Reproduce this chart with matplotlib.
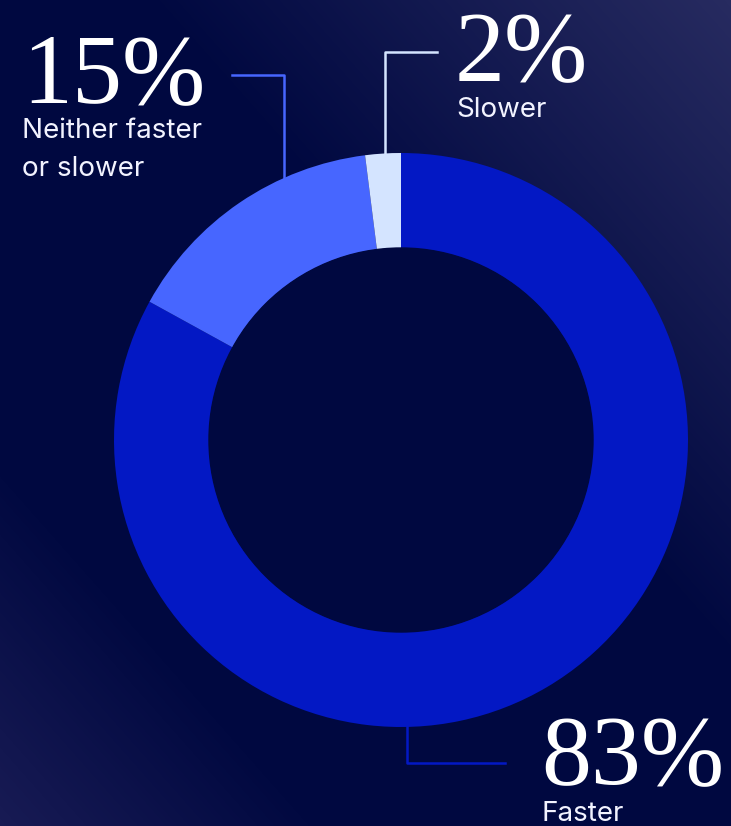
import numpy as np
import matplotlib.pyplot as plt
from matplotlib.colors import LinearSegmentedColormap

# data
labels = ["Faster", "Neither faster\nor slower", "Slower"]
values = [83, 15, 2]
pct_text = ["83%", "15%", "2%"]
colors = ["#0318C4", "#4766FF", "#D4E4FF"]

W, H = 731, 826
fig = plt.figure(figsize=(W / 100, H / 100), dpi=100)
ax = fig.add_axes([0, 0, 1, 1])

# background gradient: lighter at top-right and bottom-left, dark in the middle
bg = LinearSegmentedColormap.from_list(
    "bg", [(0.0, "#272B60"), (0.4, "#000840"), (0.78, "#000840"), (1.0, "#181B54")])
yy, xx = np.mgrid[0:H, 0:W]
t = ((W - xx) / W + yy / H) / 2  # 0 at top-right, 1 at bottom-left
ax.imshow(t, cmap=bg, extent=[0, W, 0, H], origin="upper", aspect="auto", zorder=0)

# donut (pixel coords, y measured from bottom)
cx, cy = 401, H - 440
r_out, r_in = 287, 192
ax.pie(values, colors=colors, startangle=90, counterclock=False,
       radius=r_out, center=(cx, cy),
       wedgeprops=dict(width=r_out - r_in, linewidth=0))
ax.add_patch(plt.Circle((cx, cy), r_in, color="#000840", zorder=3))

ax.set_xlim(0, W)
ax.set_ylim(0, H)
ax.set_aspect("auto")
ax.axis("off")

# leader lines
lw = 1.8
ax.plot([232, 284, 284], [H - 75, H - 75, H - 178], color=colors[1], lw=lw, zorder=2)
ax.plot([437, 385, 385], [H - 52, H - 52, H - 155], color=colors[2], lw=lw, zorder=2)
ax.plot([407, 407, 505], [H - 725, H - 763, H - 763], color=colors[0], lw=lw, zorder=2)

# text
serif = ["Liberation Serif", "DejaVu Serif"]
sans = ["Inter", "DejaVu Sans"]
big = 72
small = 20
txt = "#F2F3FF"


def label(x, y, s):
    # one text per line, each placed on its own baseline
    for i, line in enumerate(s.split("\n")):
        ax.text(x, H - (y + 38 * i), line, family=sans, fontsize=small,
                color=txt, va="baseline")


# Faster
ax.text(541, H - 784, pct_text[0], family=serif, fontsize=big, color="white", va="baseline")
label(541, 821, labels[0])
# Neither
ax.text(22, H - 102, pct_text[1], family=serif, fontsize=big, color="white", va="baseline")
label(22, 138, labels[1])
# Slower
ax.text(455, H - 80, pct_text[2], family=serif, fontsize=big, color="white", va="baseline")
label(456, 117, labels[2])

fig.savefig("out.png", dpi=100)
